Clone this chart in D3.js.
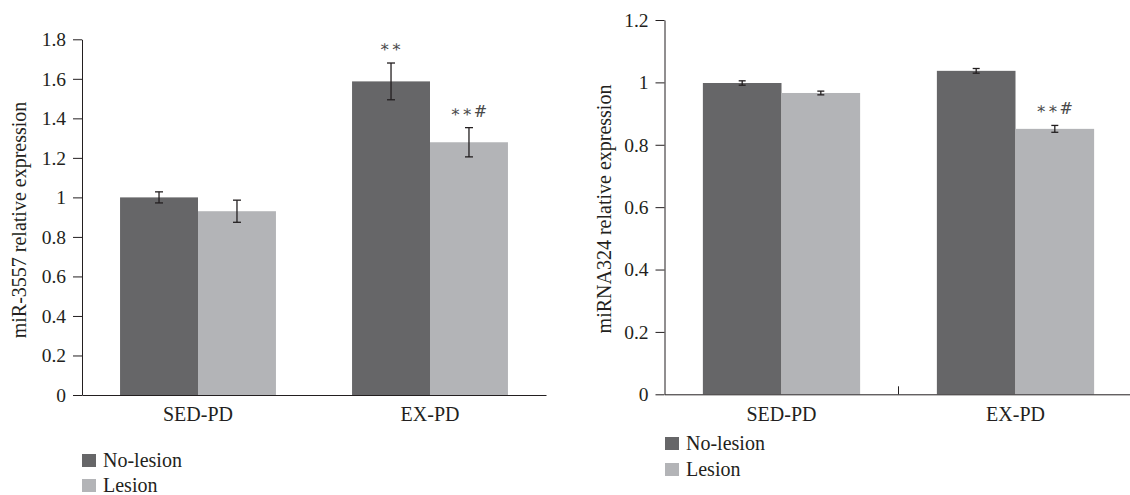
<!DOCTYPE html>
<html>
<head>
<meta charset="utf-8">
<script src="https://cdn.jsdelivr.net/npm/d3@7"></script>
<style>
  html, body { margin: 0; padding: 0; background: #fff; }
  svg { display: block; }
  text { font-family: "Liberation Serif", "DejaVu Serif", serif; fill: #231f20; }
</style>
</head>
<body>
<svg id="chart" width="1130" height="495"></svg>
<script>
// ---- data ----
const categories = ["SED-PD", "EX-PD"];
const seriesNames = ["No-lesion", "Lesion"];
const seriesColors = ["#666668", "#b3b4b7"];

// Left panel: miR-3557
const leftNoLesion = [1.00, 1.587];
const leftLesion = [0.930, 1.279];
const leftNoLesionErr = [0.028, 0.093];
const leftLesionErr = [0.056, 0.074];
const leftNoLesionMarks = ["", "∗∗"];
const leftLesionMarks = ["", "∗∗#"];
const leftTicks = [0, 0.2, 0.4, 0.6, 0.8, 1, 1.2, 1.4, 1.6, 1.8];
const leftTickLabels = ["0", "0.2", "0.4", "0.6", "0.8", "1", "1.2", "1.4", "1.6", "1.8"];
const leftTitle = "miR-3557 relative expression";

// Right panel: miRNA324
const rightNoLesion = [0.998, 1.037];
const rightLesion = [0.966, 0.851];
const rightNoLesionErr = [0.007, 0.0075];
const rightLesionErr = [0.006, 0.011];
const rightNoLesionMarks = ["", ""];
const rightLesionMarks = ["", "∗∗#"];
const rightTicks = [0, 0.2, 0.4, 0.6, 0.8, 1, 1.2];
const rightTickLabels = ["0", "0.2", "0.4", "0.6", "0.8", "1", "1.2"];
const rightTitle = "miRNA324 relative expression";

const svg = d3.select("#chart");

function panel(cfg) {
  const g = svg.append("g");
  const x0 = d3.scaleBand().domain(categories).range(cfg.xRange)
    .paddingInner(0.328).paddingOuter(0.164);
  const x1 = d3.scaleBand().domain(seriesNames).range([0, x0.bandwidth()]);
  const y = d3.scaleLinear().domain([0, cfg.yMax]).range(cfg.yRange);

  const series = [
    { name: seriesNames[0], vals: cfg.s0, errs: cfg.e0, marks: cfg.m0, color: seriesColors[0] },
    { name: seriesNames[1], vals: cfg.s1, errs: cfg.e1, marks: cfg.m1, color: seriesColors[1] }
  ];

  const pts = [];
  series.forEach(s => categories.forEach((c, i) => pts.push({ s, c, v: s.vals[i], e: s.errs[i], m: s.marks[i] })));

  // bars
  g.selectAll("rect.bar").data(pts).join("rect")
    .attr("class", "bar")
    .attr("x", d => x0(d.c) + x1(d.s.name))
    .attr("width", x1.bandwidth())
    .attr("y", d => y(d.v))
    .attr("height", d => y(0) - y(d.v))
    .attr("fill", d => d.s.color);

  // error bars
  const cx = d => x0(d.c) + x1(d.s.name) + x1.bandwidth() / 2;
  const eb = g.selectAll("g.err").data(pts).join("g").attr("class", "err")
    .attr("stroke", "#231f20").attr("stroke-width", 1.3);
  eb.append("line").attr("x1", cx).attr("x2", cx)
    .attr("y1", d => y(d.v + d.e)).attr("y2", d => y(d.v - d.e));
  eb.append("line").attr("x1", d => cx(d) - cfg.cap).attr("x2", d => cx(d) + cfg.cap)
    .attr("y1", d => y(d.v + d.e)).attr("y2", d => y(d.v + d.e));
  eb.append("line").attr("x1", d => cx(d) - cfg.cap).attr("x2", d => cx(d) + cfg.cap)
    .attr("y1", d => y(d.v - d.e)).attr("y2", d => y(d.v - d.e));

  // significance marks
  g.selectAll("text.mark").data(pts.filter(d => d.m)).join("text")
    .attr("class", "mark")
    .attr("x", cx)
    .attr("y", d => y(d.v + d.e) - 11)
    .attr("text-anchor", "middle")
    .attr("font-size", 16)
    .style("font-family", "'DejaVu Serif', serif")
    .style("fill", "#4a4a4a")
    .attr("letter-spacing", 1)
    .text(d => d.m);

  // y axis
  const yAxis = d3.axisLeft(y).tickValues(cfg.ticks)
    .tickFormat((d, i) => cfg.tickLabels[i]).tickSize(9).tickSizeOuter(0).tickPadding(7);
  const ya = g.append("g").attr("transform", `translate(${cfg.xRange[0]},0)`).call(yAxis);
  ya.selectAll("path, line").attr("stroke", "#231f20").attr("stroke-width", 1);
  ya.selectAll("text").attr("font-size", 19.5).style("font-family", "'Liberation Serif', serif");

  // x axis
  const xAxis = d3.axisBottom(x0).tickSize(0).tickSizeOuter(0).tickPadding(cfg.xPad);
  const xa = g.append("g").attr("transform", `translate(0,${y(0)})`).call(xAxis);
  xa.select("path").attr("stroke", "#231f20").attr("stroke-width", 1);
  xa.selectAll("text").attr("font-size", 20).style("font-family", "'Liberation Serif', serif");

  // category boundary tick (right panel only)
  if (cfg.midTick) {
    const bx = x0(categories[1]) - x0.step() * x0.paddingInner() / 2;
    g.append("line").attr("x1", bx).attr("x2", bx)
      .attr("y1", y(0)).attr("y2", y(0) - 8)
      .attr("stroke", "#231f20").attr("stroke-width", 1);
  }

  // y title
  g.append("text")
    .attr("transform", `translate(${cfg.titleX},${cfg.titleY}) rotate(-90)`)
    .attr("text-anchor", "middle")
    .attr("font-size", 20)
    .text(cfg.title);

  // legend
  const lg = g.append("g").attr("transform", `translate(${cfg.legendX},${cfg.legendY})`);
  series.forEach((s, i) => {
    const row = lg.append("g").attr("transform", `translate(0,${i * cfg.legendGap})`);
    row.append("rect").attr("width", 14).attr("height", 13).attr("fill", s.color);
    row.append("text").attr("x", 21).attr("y", 13).attr("font-size", 20).text(s.name);
  });
}

panel({
  xRange: [82, 546], yRange: [395, 39.3], yMax: 1.8,
  s0: leftNoLesion, s1: leftLesion, e0: leftNoLesionErr, e1: leftLesionErr,
  m0: leftNoLesionMarks, m1: leftLesionMarks,
  ticks: leftTicks, tickLabels: leftTickLabels, cap: 4, xPad: 11.5,
  title: leftTitle, titleX: 26, titleY: 220,
  legendX: 82, legendY: 454, legendGap: 25, midTick: false
});

panel({
  xRange: [664.5, 1132.5], yRange: [394.3, 20], yMax: 1.2,
  s0: rightNoLesion, s1: rightLesion, e0: rightNoLesionErr, e1: rightLesionErr,
  m0: rightNoLesionMarks, m1: rightLesionMarks,
  ticks: rightTicks, tickLabels: rightTickLabels, cap: 3.5, xPad: 13,
  title: rightTitle, titleX: 611, titleY: 209,
  legendX: 665, legendY: 437, legendGap: 26, midTick: true
});
</script>
</body>
</html>
